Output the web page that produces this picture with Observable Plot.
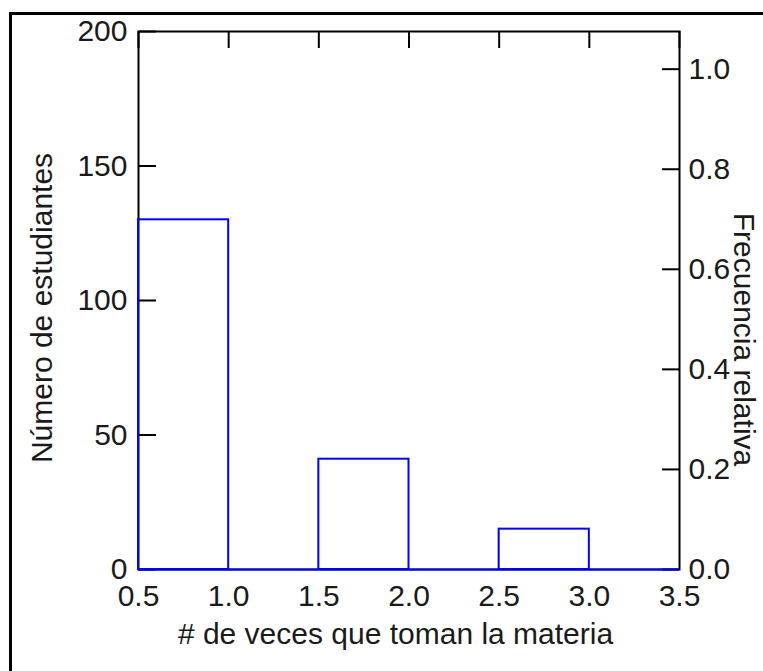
<!DOCTYPE html>
<html>
<head>
<meta charset="utf-8">
<script src="https://cdn.jsdelivr.net/npm/d3@7"></script>
<script src="https://cdn.jsdelivr.net/npm/@observablehq/plot@0.6"></script>
<style>
  html, body { margin: 0; padding: 0; background: #fff; }
  #wrap { position: relative; width: 763px; height: 671px; overflow: hidden; }
  #outer { position: absolute; left: 9px; top: 12px; width: 2000px; height: 2000px;
           border-left: 3px solid #000; border-top: 3px solid #000; pointer-events: none; }
</style>
</head>
<body>
<div id="wrap"><div id="outer"></div></div>
<script>
// Data
const binStart = [0.5, 1.5, 2.5];
const binEnd   = [1.0, 2.0, 3.0];
const counts   = [130, 41, 15];
const xTicks   = [0.5, 1.0, 1.5, 2.0, 2.5, 3.0, 3.5];
const yTicks   = [0, 50, 100, 150, 200];
const freqTicks = [0, 0.2, 0.4, 0.6, 0.8, 1.0];
const xLabel = "# de veces que toman la materia";
const yLabel = "Número de estudiantes";
const y2Label = "Frecuencia relativa";

const total = d3.sum(counts);
const bins = binStart.map((s, i) => ({x1: s, x2: binEnd[i], n: counts[i]}));
const freqPos = freqTicks.map(f => f * total);

const W = 763, H = 671;
const mL = 138, mR = 84, mT = 31, mB = 102;
const innerW = W - mL - mR, innerH = H - mT - mB;
const ink = "#1a1a1a";
const blue = "#0000ff";

const chart = Plot.plot({
  width: W, height: H,
  marginLeft: mL, marginRight: mR, marginTop: mT, marginBottom: mB,
  style: {fontFamily: "'Liberation Sans', Arial, sans-serif", fontSize: "30px", color: ink, background: "transparent"},
  x: {domain: [0.5, 3.5]},
  y: {domain: [0, 200]},
  marks: [
    // tick labels
    Plot.axisY(yTicks, {anchor: "left", tickSize: 0, tickPadding: 11, label: null, fontSize: 30, tickFormat: d => String(d)}),
    Plot.axisX(xTicks, {anchor: "bottom", tickSize: 0, tickPadding: 15, label: null, fontSize: 30, tickFormat: d3.format(".1f")}),
    Plot.axisY(freqPos, {anchor: "right", tickSize: 0, tickPadding: 9, label: null, fontSize: 30, tickFormat: d => (d / total).toFixed(1)}),
    // inward ticks
    Plot.axisY(yTicks, {anchor: "right", dx: -innerW, tickSize: 17, strokeWidth: 2, stroke: "#000", fill: "none", label: null}),
    Plot.axisY(freqPos, {anchor: "left", dx: innerW, tickSize: 17, strokeWidth: 2, stroke: "#000", fill: "none", label: null}),
    Plot.axisX(xTicks, {anchor: "bottom", dy: -innerH, tickSize: 17, strokeWidth: 2, stroke: "#000", fill: "none", label: null}),
    Plot.frame({stroke: "#000", strokeWidth: 2}),
    // histogram
    Plot.ruleY([0], {stroke: blue, strokeWidth: 2}),
    Plot.rectY(bins, {x1: "x1", x2: "x2", y: "n", fill: "none", stroke: blue, strokeWidth: 2}),
    // titles
    Plot.text([xLabel], {frameAnchor: "bottom", lineAnchor: "top", textAnchor: "middle", dy: 53, dx: -13.5, fontSize: 30, fill: ink}),
    Plot.text([yLabel], {frameAnchor: "left", rotate: -90, lineAnchor: "middle", textAnchor: "middle", dx: -96.5, dy: 7.5, fontSize: 30, fill: ink}),
    Plot.text([y2Label], {frameAnchor: "right", rotate: 90, lineAnchor: "middle", textAnchor: "middle", dx: 64.5, dy: 39, fontSize: 30, fill: ink})
  ]
});
document.getElementById("wrap").insertBefore(chart, document.getElementById("outer"));
</script>
</body>
</html>
